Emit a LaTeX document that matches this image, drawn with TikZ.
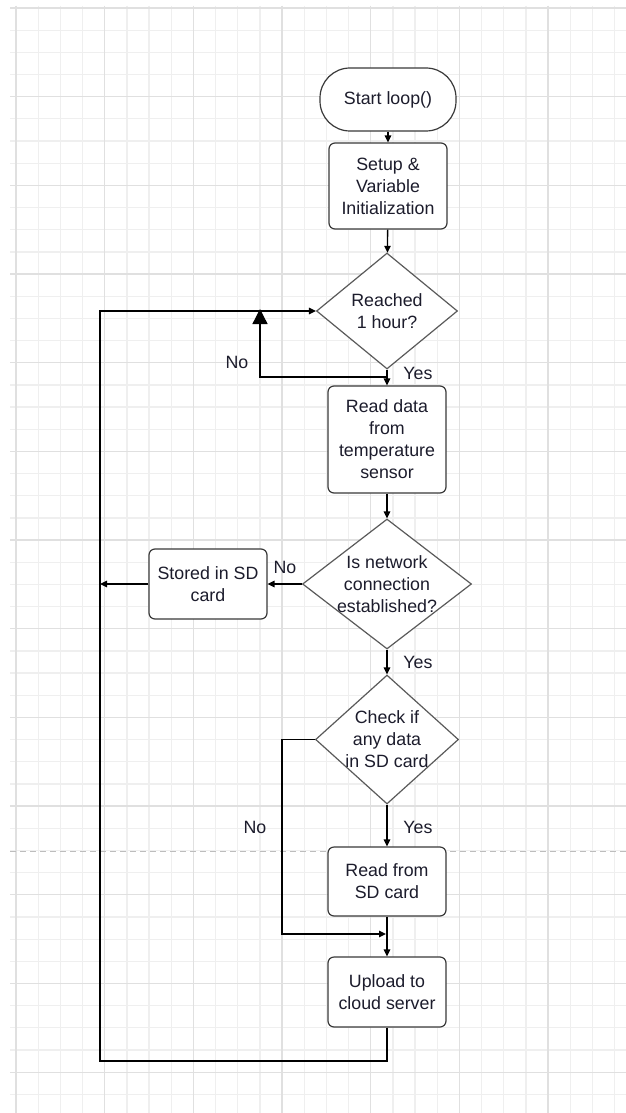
\documentclass[tikz,border=0pt]{standalone}
\usepackage{fontspec}
\setmainfont{Liberation Sans}
\usetikzlibrary{arrows.meta,shapes.geometric}
\definecolor{gridminor}{HTML}{EFEFEF}
\definecolor{gridmajor}{HTML}{E0E0E0}
\definecolor{txt}{HTML}{1C1C2C}
\definecolor{boxedge}{HTML}{3A3A3A}
\definecolor{diaedge}{HTML}{5A5A5A}
\definecolor{pagebreak}{HTML}{BDBDBD}

\begin{document}
\begin{tikzpicture}[x=1pt,y=-1pt,
  every node/.style={font=\fontsize{17.8}{22}\selectfont, text=txt},
  proc/.style={draw=boxedge, line width=1.2pt, rounded corners=6pt, fill=white,
    minimum width=118pt, inner sep=0pt, align=center},
  term/.style={draw=boxedge, line width=1.2pt, rounded corners=30pt, fill=white,
    minimum width=136pt, minimum height=63pt, inner sep=0pt},
  decision/.style={diamond, draw=diaedge, line width=1.2pt, fill=white, inner sep=0pt},
  flow/.style={draw=black, line width=1.3pt, -{Triangle[length=7pt,width=6.5pt]}},
  bigflow/.style={draw=black, line width=1.3pt, -{Triangle[length=15pt,width=15pt]}},
  minorline/.style={draw=gridminor, line width=1.3pt},
  majorline/.style={draw=gridmajor, line width=1.3pt},
  breakline/.style={draw=pagebreak, line width=1pt, dash pattern=on 6pt off 4pt},
]
% canvas
\useasboundingbox (0,0) rectangle (626,1113);
\fill[white] (0,0) rectangle (626,1113);

% background grid
\foreach \k in {0,...,27} \draw[minorline] ({16+22.17*\k},6) -- ({16+22.17*\k},1113);
\foreach \k in {0,...,49} \draw[minorline] (10,{8+22.17*\k}) -- (626,{8+22.17*\k});
\foreach \k in {0,4,...,24} \draw[majorline] ({16+22.17*\k},6) -- ({16+22.17*\k},1113);
\foreach \k in {0,4,...,48} \draw[majorline] (10,{8+22.17*\k}) -- (626,{8+22.17*\k});

% page break
\draw[breakline] (10,851) -- (626,851);

% flowchart nodes
\node[term] (start) at (388,99.5) {Start loop()};
\node[proc, minimum height=86pt] (setup) at (388,186) {Setup \&\\Variable\\Initialization};
\node[decision, minimum width=141pt, minimum height=116pt,
  label={[align=center]center:Reached\\1 hour?}] (d1) at (387,311) {};
\node[proc, minimum height=107pt] (read) at (387,439.5) {Read data\\from\\temperature\\sensor};
\node[decision, minimum width=169pt, minimum height=130pt,
  label={[align=center]center:Is network\\connection\\established?}] (d2) at (387,584) {};
\node[proc, minimum height=70pt] (stored) at (208,584) {Stored in SD\\card};
\node[decision, minimum width=143pt, minimum height=129pt,
  label={[align=center]center:Check if\\any data\\in SD card}] (d3) at (387,739.5) {};
\node[proc, minimum height=69pt] (readsd) at (387,881.5) {Read from\\SD card};
\node[proc, minimum height=70pt] (upload) at (387,992) {Upload to\\cloud server};

% junction points
\coordinate (nbend) at (387,377);
\coordinate (njoin) at (260,309);
\coordinate (rl) at (100,1061);
\coordinate (sjoin) at (100,584);
\coordinate (nx) at (282,934);
\coordinate (mjoin) at (386,934);

% connectors
\draw[flow] (start) -- (setup);
\draw[flow] (setup) -- (d1);
\draw[flow] (d1) -- (read);
\draw[bigflow] (nbend) -| (njoin);
\draw[flow] (read) -- (d2);
\draw[flow] (d2) -- (stored);
\draw[flow] (stored) -- (sjoin);
\draw[flow] (d2) -- (d3);
\draw[flow] (d3) -- (readsd);
\draw[flow] (d3.west) -| (nx) -- (mjoin);
\draw[flow] (readsd) -- (upload);
\draw[flow] (upload.south) |- (rl) |- (d1.west);

% branch labels
\node (no1) at (237,362) {No};
\node (yes1) at (418,373) {Yes};
\node (no2) at (285,567) {No};
\node (yes2) at (418,662) {Yes};
\node (yes3) at (418,827) {Yes};
\node (no3) at (255,827) {No};
\end{tikzpicture}
\end{document}
